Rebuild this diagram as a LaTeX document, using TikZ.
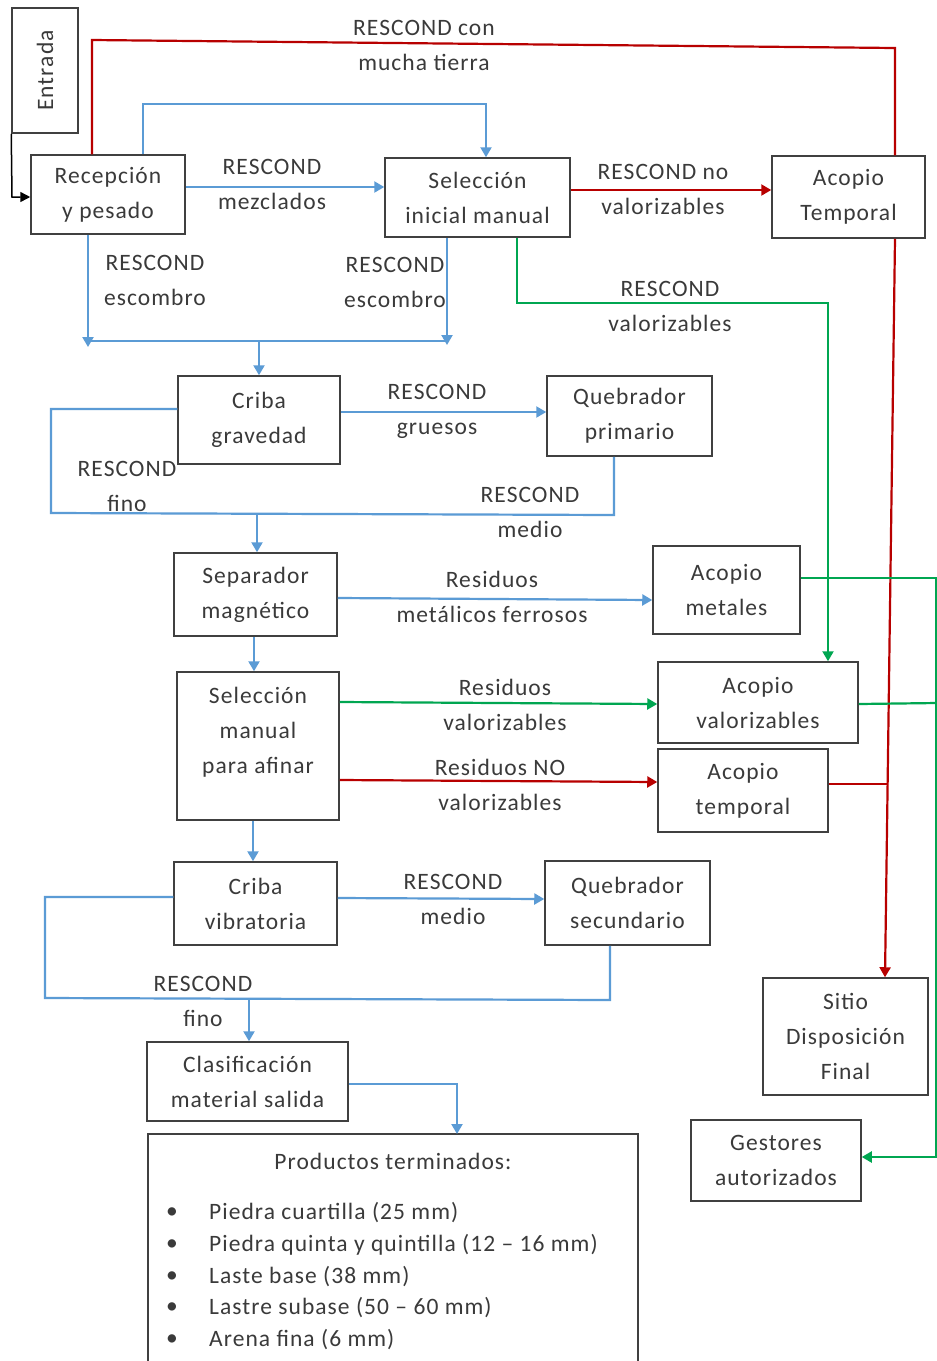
\documentclass[tikz,border=0pt]{standalone}
\usepackage{fontspec}
\setmainfont{Carlito}[LetterSpace=4.5]
\usetikzlibrary{arrows.meta}
\definecolor{bluec}{HTML}{5B9BD5}
\definecolor{redc}{HTML}{B80000}
\definecolor{greenc}{HTML}{00A651}
\definecolor{boxc}{HTML}{404040}
\definecolor{txt}{HTML}{3A3A3A}
\newcommand{\fs}{\fontsize{23.5}{35}\selectfont}
\tikzset{
  box/.style={draw=boxc, line width=1.5pt, inner sep=0pt, align=center, text=txt, font=\fs},
  lbl/.style={text=txt, inner sep=0pt, align=center, font=\fs},
  cn/.style={line width=2.2pt, line join=miter},
  bl/.style={cn, draw=bluec},
  rl/.style={cn, draw=redc},
  gl/.style={cn, draw=greenc},
  tip/.style={-{Triangle[length=10pt,width=11pt]}},
}
\begin{document}
\begin{tikzpicture}[x=1pt,y=-1pt]
\useasboundingbox (0,0) rectangle (937,1361);
\fill[white] (0,0) rectangle (937,1361);
% boxes
\node[box, minimum width=66pt, minimum height=125pt] (ent) at (45,70.5) {};
\node[lbl, rotate=90] (entt) at (45,70.5) {Entrada};
\node[box, minimum width=154pt, minimum height=79pt] (rec) at (108,194.5) {Recepción\\y pesado};
\node[box, minimum width=185pt, minimum height=79pt] (sel) at (477.5,197.5) {Selección\\inicial manual};
\node[box, minimum width=153pt, minimum height=82pt] (acT) at (848.5,197) {Acopio\\Temporal};
\node[box, minimum width=162pt, minimum height=88pt] (cg) at (259,420) {Criba\\gravedad};
\node[box, minimum width=165pt, minimum height=80pt] (qp) at (629.5,416) {Quebrador\\primario};
\node[box, minimum width=163pt, minimum height=83pt] (sm) at (255.5,594.5) {Separador\\magnético};
\node[box, minimum width=147pt, minimum height=88pt] (am) at (726.5,590) {Acopio\\metales};
\node[box, minimum width=162pt, minimum height=148pt] (smaf) at (258,746) {};
\node[lbl] (smaft) at (258,732) {Selección\\manual\\para afinar};
\node[box, minimum width=200pt, minimum height=81pt] (av) at (758,702.5) {Acopio\\valorizables};
\node[box, minimum width=170pt, minimum height=83pt] (at) at (743,790.5) {Acopio\\temporal};
\node[box, minimum width=163pt, minimum height=83pt] (cv) at (255.5,903.5) {Criba\\vibratoria};
\node[box, minimum width=165pt, minimum height=84pt] (qs) at (627.5,903) {Quebrador\\secundario};
\node[box, minimum width=201pt, minimum height=79pt] (cl) at (247.5,1081.5) {Clasificación\\material salida};
\node[box, minimum width=165pt, minimum height=117pt] (sdf) at (845.5,1036.5) {Sitio\\Disposición\\Final};
\node[box, minimum width=170pt, minimum height=81pt] (ga) at (776,1160.5) {Gestores\\autorizados};
% products box (open at bottom)
\coordinate (pbl) at (148,1375);
\coordinate (ptl) at (148,1134);
\coordinate (ptr) at (638,1134);
\coordinate (pbr) at (638,1375);
\draw[draw=boxc, line width=1.5pt] (pbl) -- (ptl) -- (ptr) -- (pbr);
\node[lbl] (pt) at (393,1161) {Productos terminados:};
\foreach \y/\t [count=\i] in {1213/{Piedra cuartilla (25 mm)},1245/{Piedra quinta y quintilla (12 – 16 mm)},1277/{Laste base (38 mm)},1308/{Lastre subase (50 – 60 mm)},1340/{Arena fina (6 mm)}}{
  \node[lbl] (b\i) at (172,\y) {•};
  \node[lbl, anchor=west] (p\i) at (209,\y) {\t};
}
% labels
\node[lbl] (l1) at (424,45) {RESCOND con\\mucha tierra};
\node[lbl] (l2) at (272,184) {RESCOND\\mezclados};
\node[lbl] (l3) at (663,189) {RESCOND no\\valorizables};
\node[lbl] (l4) at (155,280) {RESCOND\\escombro};
\node[lbl] (l5) at (395,282) {RESCOND\\escombro};
\node[lbl] (l6) at (670,306) {RESCOND\\valorizables};
\node[lbl] (l7) at (437,411) {RESCOND\\gruesos};
\node[lbl] (l8) at (127,486) {RESCOND\\fino};
\node[lbl] (l9) at (530,512) {RESCOND\\medio};
\node[lbl] (l10) at (492,597) {Residuos\\metálicos ferrosos};
\node[lbl] (l11) at (505,705) {Residuos\\valorizables};
\node[lbl] (l12) at (500,785) {Residuos NO\\valorizables};
\node[lbl] (l13) at (453,899) {RESCOND\\medio};
\node[lbl] (l14) at (203,1001) {RESCOND\\fino};
% connectors
\draw[line width=1.5pt, draw=black, -{Triangle[length=10pt,width=10pt]}] (ent.south west) -- (12,197) -- (rec.west |- 0,197);
\draw[rl] (92,0 |- rec.north) -- (92,40) -- (895,48) -- (895,0 |- acT.north);
\draw[bl, tip] (143,0 |- rec.north) -- (143,104) -- (486,104) -- (486,0 |- sel.north);
\draw[bl, tip] (rec.east |- 0,187) -- (sel.west |- 0,187);
\draw[rl, tip] (sel.east |- 0,190) -- (acT.west |- 0,190);
\coordinate (j1) at (88,341);
\coordinate (j2) at (447,341);
\draw[bl, tip] (88,0 |- rec.south) -- (88,347);
\draw[bl, tip] (447,0 |- sel.south) -- (447,345);
\draw[bl] (j1) -- (j2);
\draw[bl, tip] (259,341) -- (259,0 |- cg.north);
\draw[gl, tip] (517,0 |- sel.south) -- (517,303) -- (828,303) -- (828,0 |- av.north);
\draw[rl, tip] (895,0 |- acT.south) -- (885,0 |- sdf.north);
\draw[bl, tip] (cg.east |- 0,412) -- (qp.west |- 0,412);
\coordinate (j3) at (51,513);
\coordinate (j4) at (614,515);
\draw[bl] (cg.west |- 0,409) -- (51,409) -- (j3) -- (j4) -- (614,0 |- qp.south);
\draw[bl, tip] (257,514) -- (257,0 |- sm.north);
\draw[bl, tip] (sm.east |- 0,598) -- (am.west |- 0,600);
\coordinate (e1) at (937,578);
\draw[gl] (am.east |- 0,578) -- (e1);
\draw[bl, tip] (254,0 |- sm.south) -- (254,0 |- smaf.north);
\draw[gl, tip] (smaf.east |- 0,702) -- (av.west |- 0,704);
\draw[rl, tip] (smaf.east |- 0,780) -- (at.west |- 0,782);
\coordinate (e2) at (937,703);
\draw[gl] (av.east |- 0,704) -- (e2);
\coordinate (j5) at (887,784);
\draw[rl] (at.east |- 0,784) -- (j5);
\draw[bl, tip] (253,0 |- smaf.south) -- (253,0 |- cv.north);
\draw[bl, tip] (cv.east |- 0,898) -- (qs.west |- 0,899);
\coordinate (j6) at (45,998);
\coordinate (j7) at (610,1000);
\draw[bl] (cv.west |- 0,897) -- (45,897) -- (j6) -- (j7) -- (610,0 |- qs.south);
\draw[bl, tip] (249,999) -- (249,0 |- cl.north);
\draw[bl, tip] (cl.east |- 0,1084) -- (457,1084) -- (457,0 |- ptr);
\coordinate (e3) at (936.5,1157);
\draw[gl] (936.5,578) -- (e3);
\draw[gl, tip] (e3) -- (ga.east |- 0,1157);
\end{tikzpicture}
\end{document}
